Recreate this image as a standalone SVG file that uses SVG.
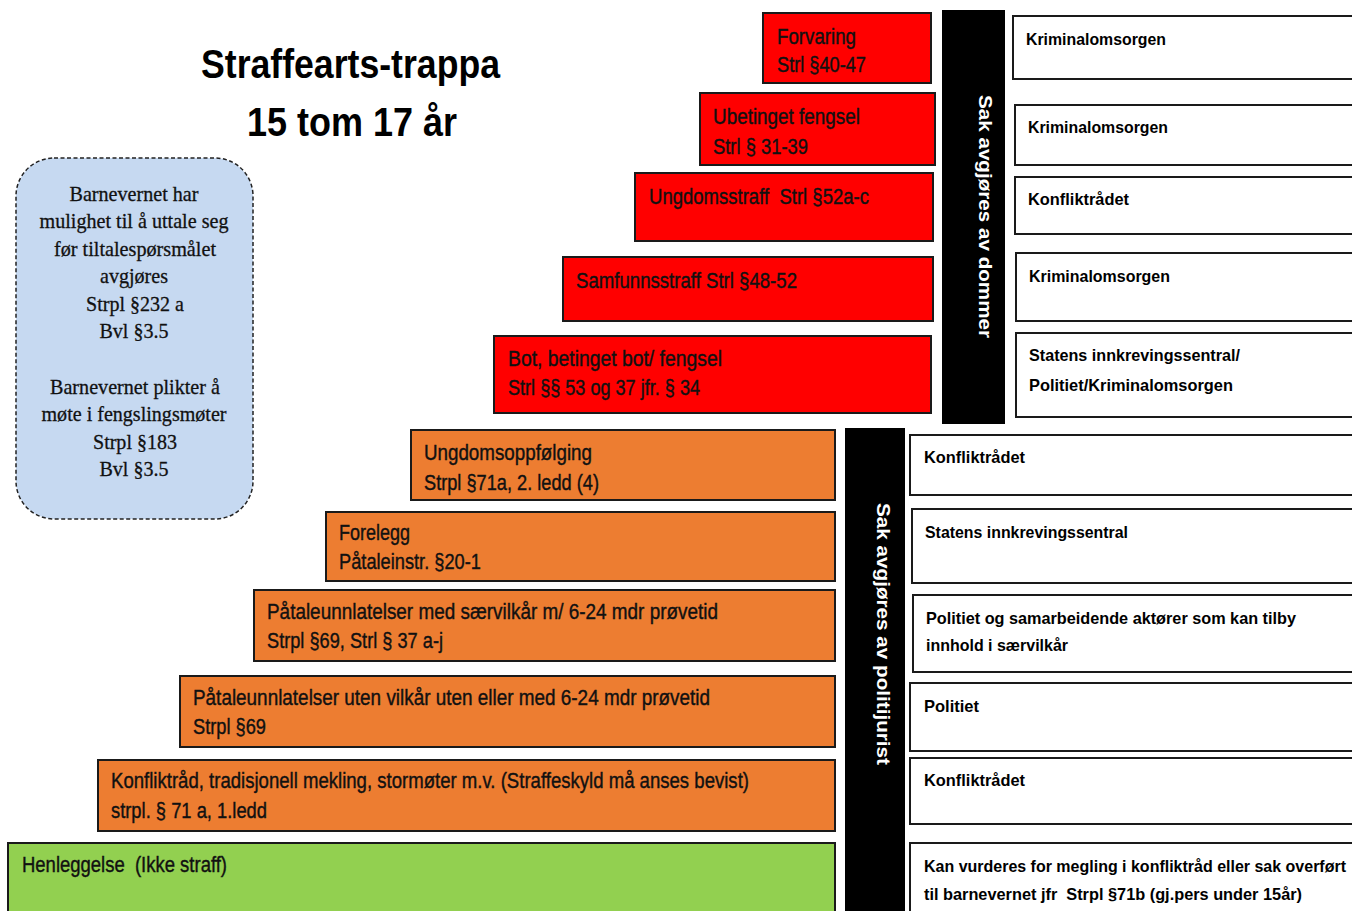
<svg xmlns="http://www.w3.org/2000/svg" width="1352" height="911" viewBox="0 0 1352 911">
<style>
.red{fill:#FF0000;stroke:#1a1a1a;stroke-width:2}
.org{fill:#ED7D31;stroke:#1a1a1a;stroke-width:2}
.grn{fill:#92D050;stroke:#1a1a1a;stroke-width:2}
.wb{fill:#FFFFFF;stroke:#1a1a1a;stroke-width:2}
.bar{fill:#000000}
text{white-space:pre}
.st{font-family:"Liberation Sans",Arial,sans-serif;font-size:22px;fill:#111;stroke:#111;stroke-width:0.4}
.rt{font-family:"Liberation Sans",Arial,sans-serif;font-size:17px;font-weight:bold;fill:#000}
.bt{font-family:"Liberation Serif","Times New Roman",serif;font-size:22px;fill:#111;stroke:#111;stroke-width:0.3}
.vt{font-family:"Liberation Sans",Arial,sans-serif;font-size:19px;font-weight:bold;fill:#fff}
.tt{font-family:"Liberation Sans",Arial,sans-serif;font-size:40px;font-weight:bold;fill:#000}
</style>
<rect width="1352" height="911" fill="#fff"/>

<g id="title">
<text class="tt" x="201" y="78" textLength="299" lengthAdjust="spacingAndGlyphs">Straffearts-trappa</text>
<text class="tt" x="247" y="136" textLength="210" lengthAdjust="spacingAndGlyphs">15 tom 17 år</text>
</g>

<g id="barnevernet">
<rect x="16" y="158" width="237" height="361" rx="38" ry="38" fill="#C6D9F1" stroke="#222" stroke-width="1.5" stroke-dasharray="4,2.5"/>
<g class="bt" text-anchor="middle">
<text x="134" y="201" textLength="129" lengthAdjust="spacingAndGlyphs">Barnevernet har</text>
<text x="134" y="228" textLength="189" lengthAdjust="spacingAndGlyphs">mulighet til å uttale seg</text>
<text x="135" y="256" textLength="162" lengthAdjust="spacingAndGlyphs">før tiltalespørsmålet</text>
<text x="134" y="283" textLength="68" lengthAdjust="spacingAndGlyphs">avgjøres</text>
<text x="135" y="311" textLength="98" lengthAdjust="spacingAndGlyphs">Strpl §232 a</text>
<text x="134" y="338" textLength="69" lengthAdjust="spacingAndGlyphs">Bvl §3.5</text>
<text x="135" y="394" textLength="170" lengthAdjust="spacingAndGlyphs">Barnevernet plikter å</text>
<text x="134" y="421" textLength="185" lengthAdjust="spacingAndGlyphs">møte i fengslingsmøter</text>
<text x="135" y="449" textLength="84" lengthAdjust="spacingAndGlyphs">Strpl §183</text>
<text x="134" y="476" textLength="69" lengthAdjust="spacingAndGlyphs">Bvl §3.5</text>
</g>
</g>

<g id="forvaring">
<rect class="red" x="763" y="13" width="168" height="70"/>
<text class="st" x="777" y="44" textLength="79" lengthAdjust="spacingAndGlyphs">Forvaring</text>
<text class="st" x="777" y="72" textLength="89" lengthAdjust="spacingAndGlyphs">Strl §40-47</text>
</g>
<g id="ubetinget">
<rect class="red" x="700" y="93" width="235" height="72"/>
<text class="st" x="713" y="124" textLength="147" lengthAdjust="spacingAndGlyphs">Ubetinget fengsel</text>
<text class="st" x="713" y="154" textLength="95" lengthAdjust="spacingAndGlyphs">Strl § 31-39</text>
</g>
<g id="ungdomsstraff">
<rect class="red" x="635" y="173" width="298" height="68"/>
<text class="st" x="649" y="204" textLength="220" lengthAdjust="spacingAndGlyphs">Ungdomsstraff  Strl §52a-c</text>
</g>
<g id="samfunnsstraff">
<rect class="red" x="563" y="257" width="370" height="64"/>
<text class="st" x="576" y="288" textLength="221" lengthAdjust="spacingAndGlyphs">Samfunnsstraff Strl §48-52</text>
</g>
<g id="bot">
<rect class="red" x="494" y="336" width="437" height="77"/>
<text class="st" x="508" y="366" textLength="214" lengthAdjust="spacingAndGlyphs">Bot, betinget bot/ fengsel</text>
<text class="st" x="508" y="395" textLength="192" lengthAdjust="spacingAndGlyphs">Strl §§ 53 og 37 jfr. § 34</text>
</g>

<g id="ungdomsoppfolging">
<rect class="org" x="411" y="430" width="424" height="70"/>
<text class="st" x="424" y="460" textLength="168" lengthAdjust="spacingAndGlyphs">Ungdomsoppfølging</text>
<text class="st" x="424" y="490" textLength="175" lengthAdjust="spacingAndGlyphs">Strpl §71a, 2. ledd (4)</text>
</g>
<g id="forelegg">
<rect class="org" x="326" y="512" width="509" height="69"/>
<text class="st" x="339" y="540" textLength="71" lengthAdjust="spacingAndGlyphs">Forelegg</text>
<text class="st" x="339" y="569" textLength="142" lengthAdjust="spacingAndGlyphs">Påtaleinstr. §20-1</text>
</g>
<g id="pataleunnlatelse-med">
<rect class="org" x="254" y="590" width="581" height="71"/>
<text class="st" x="267" y="619" textLength="451" lengthAdjust="spacingAndGlyphs">Påtaleunnlatelser med særvilkår m/ 6-24 mdr prøvetid</text>
<text class="st" x="267" y="648" textLength="176" lengthAdjust="spacingAndGlyphs">Strpl §69, Strl § 37 a-j</text>
</g>
<g id="pataleunnlatelse-uten">
<rect class="org" x="180" y="676" width="655" height="71"/>
<text class="st" x="193" y="705" textLength="517" lengthAdjust="spacingAndGlyphs">Påtaleunnlatelser uten vilkår uten eller med 6-24 mdr prøvetid</text>
<text class="st" x="193" y="734" textLength="73" lengthAdjust="spacingAndGlyphs">Strpl §69</text>
</g>
<g id="konfliktraad">
<rect class="org" x="98" y="760" width="737" height="71"/>
<text class="st" x="111" y="788" textLength="638" lengthAdjust="spacingAndGlyphs">Konfliktråd, tradisjonell mekling, stormøter m.v. (Straffeskyld må anses bevist)</text>
<text class="st" x="111" y="818" textLength="156" lengthAdjust="spacingAndGlyphs">strpl. § 71 a, 1.ledd</text>
</g>
<g id="henleggelse">
<rect class="grn" x="8" y="843" width="827" height="80"/>
<text class="st" x="22" y="872" textLength="205" lengthAdjust="spacingAndGlyphs">Henleggelse  (Ikke straff)</text>
</g>

<g id="dommer">
<rect class="bar" x="942" y="10" width="63" height="414"/>
<text class="vt" transform="translate(979,95) rotate(90)" textLength="243" lengthAdjust="spacingAndGlyphs">Sak avgjøres av dommer</text>
</g>
<g id="politijurist">
<rect class="bar" x="845" y="428" width="60" height="490"/>
<text class="vt" transform="translate(877,503) rotate(90)" textLength="262" lengthAdjust="spacingAndGlyphs">Sak avgjøres av politijurist</text>
</g>

<g id="r1">
<rect class="wb" x="1013" y="16" width="350" height="63"/>
<text class="rt" x="1026" y="45" textLength="140" lengthAdjust="spacingAndGlyphs">Kriminalomsorgen</text>
</g>
<g id="r2">
<rect class="wb" x="1015" y="105" width="350" height="60"/>
<text class="rt" x="1028" y="133" textLength="140" lengthAdjust="spacingAndGlyphs">Kriminalomsorgen</text>
</g>
<g id="r3">
<rect class="wb" x="1015" y="177" width="350" height="57"/>
<text class="rt" x="1028" y="205" textLength="101" lengthAdjust="spacingAndGlyphs">Konfliktrådet</text>
</g>
<g id="r4">
<rect class="wb" x="1016" y="253" width="350" height="68"/>
<text class="rt" x="1029" y="282" textLength="141" lengthAdjust="spacingAndGlyphs">Kriminalomsorgen</text>
</g>
<g id="r5">
<rect class="wb" x="1016" y="333" width="350" height="84"/>
<text class="rt" x="1029" y="361" textLength="211" lengthAdjust="spacingAndGlyphs">Statens innkrevingssentral/</text>
<text class="rt" x="1029" y="391" textLength="204" lengthAdjust="spacingAndGlyphs">Politiet/Kriminalomsorgen</text>
</g>

<g id="p1">
<rect class="wb" x="910" y="435" width="450" height="60"/>
<text class="rt" x="924" y="463" textLength="101" lengthAdjust="spacingAndGlyphs">Konfliktrådet</text>
</g>
<g id="p2">
<rect class="wb" x="912" y="509" width="450" height="74"/>
<text class="rt" x="925" y="538" textLength="203" lengthAdjust="spacingAndGlyphs">Statens innkrevingssentral</text>
</g>
<g id="p3">
<rect class="wb" x="913" y="595" width="450" height="77"/>
<text class="rt" x="926" y="624" textLength="370" lengthAdjust="spacingAndGlyphs">Politiet og samarbeidende aktører som kan tilby</text>
<text class="rt" x="926" y="651" textLength="142" lengthAdjust="spacingAndGlyphs">innhold i særvilkår</text>
</g>
<g id="p4">
<rect class="wb" x="910" y="683" width="450" height="68"/>
<text class="rt" x="924" y="712" textLength="55" lengthAdjust="spacingAndGlyphs">Politiet</text>
</g>
<g id="p5">
<rect class="wb" x="910" y="758" width="450" height="66"/>
<text class="rt" x="924" y="786" textLength="101" lengthAdjust="spacingAndGlyphs">Konfliktrådet</text>
</g>
<g id="p6">
<rect class="wb" x="910" y="843" width="450" height="80"/>
<text class="rt" x="924" y="872" textLength="422" lengthAdjust="spacingAndGlyphs">Kan vurderes for megling i konfliktråd eller sak overført</text>
<text class="rt" x="924" y="900" textLength="378" lengthAdjust="spacingAndGlyphs">til barnevernet jfr  Strpl §71b (gj.pers under 15år)</text>
</g>

<g id="connectors"></g>
</svg>
